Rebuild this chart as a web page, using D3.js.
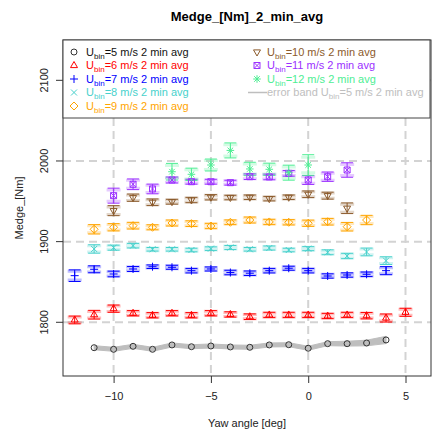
<!DOCTYPE html>
<html>
<head>
<meta charset="utf-8">
<script src="https://cdn.jsdelivr.net/npm/d3@7"></script>
<style>
  html, body { margin: 0; padding: 0; background: #fff; }
  svg { display: block; font-family: "Liberation Sans", Arial, sans-serif; }
</style>
</head>
<body>
<svg id="chart" width="432" height="432"></svg>
<script>
// Edgewise bending moment, 2 min averages binned by wind speed, versus yaw angle
const s5x = [-11, -10, -9, -8, -7, -6, -5, -4, -3, -2, -1, 0, 1, 2, 3, 4];
const s5y = [1768.5, 1766.5, 1770.2, 1766.5, 1771.9, 1769.7, 1770.6, 1769.4, 1769.0, 1771.9, 1772.2, 1767.8, 1773.5, 1773.5, 1774.3, 1778.1];
const s5band = [2.5, 2.5, 2.5, 2.5, 2.5, 2.5, 2.5, 2.5, 2.5, 2.5, 2.5, 2.5, 2.5, 3, 3.5, 4.5];

const s6x = [-12, -11, -10, -9, -8, -7, -6, -5, -4, -3, -2, -1, 0, 1, 2, 3, 4, 5];
const s6y = [1802.9, 1809.4, 1816.9, 1811.2, 1808.7, 1811.2, 1808.7, 1811.2, 1809.7, 1806.9, 1809.1, 1809.1, 1809.1, 1807.8, 1809.1, 1808.2, 1805.3, 1812.4];
const s6e = [4.8, 5.4, 4.5, 3.3, 3.3, 3.3, 3.3, 3.3, 3.3, 3.5, 3.3, 3.3, 3.3, 3.3, 3.3, 4, 5, 5];

const s7x = [-12, -11, -10, -9, -8, -7, -6, -5, -4, -3, -2, -1, 0, 1, 2, 3, 4];
const s7y = [1857.8, 1865.7, 1859.9, 1866.1, 1868.9, 1868.2, 1864, 1866.1, 1861.7, 1860.8, 1864, 1867, 1864, 1857.4, 1858.6, 1859.5, 1864];
const s7e = [7.2, 4.3, 3.5, 3.1, 2.2, 2.5, 2.8, 2.5, 2.8, 2.8, 2.8, 2.5, 2.8, 2.7, 2.7, 2.8, 5];

const s8x = [-11, -10, -9, -8, -7, -6, -5, -4, -3, -2, -1, 0, 1, 2, 3, 4];
const s8y = [1890.9, 1892.5, 1895, 1890.5, 1890.5, 1889.6, 1891.3, 1892.7, 1890.5, 1892.1, 1889.6, 1891.3, 1886.8, 1882.2, 1887.2, 1876.4];
const s8e = [5.2, 3.1, 2.8, 2.2, 2.2, 2.2, 2.2, 2.5, 2.2, 2.5, 2.2, 2.5, 3, 3.3, 4.8, 4.8];

const s9x = [-11, -10, -9, -8, -7, -6, -5, -4, -3, -2, -1, 0, 1, 2, 3];
const s9y = [1915.3, 1917.8, 1919.8, 1917.8, 1923.1, 1922.3, 1919.4, 1924, 1926.8, 1924.4, 1924, 1922.8, 1924.7, 1918.5, 1926.8];
const s9e = [5.8, 4.5, 4.1, 3.1, 3.7, 3.5, 3.3, 2.9, 3.7, 3.3, 3.3, 3.9, 4.1, 5.3, 5.8];

const s10x = [-10, -9, -8, -7, -6, -5, -4, -3, -2, -1, 0, 1, 2];
const s10y = [1938.4, 1954.5, 1948.8, 1949.5, 1951.6, 1955, 1954.7, 1955, 1953.3, 1955, 1958.7, 1957, 1941.4];
const s10e = [6.2, 4.5, 4.1, 3, 3.3, 3.3, 2.8, 2.8, 2.8, 2.8, 4.1, 4.3, 6.6];

const s11x = [-10, -9, -8, -7, -6, -5, -4, -3, -2, -1, 0, 1, 2];
const s11y = [1957, 1971.1, 1965.3, 1976.4, 1974.3, 1974.3, 1973.1, 1980.5, 1980.2, 1984.7, 1976.4, 1980.5, 1988.8];
const s11e = [9.3, 6.6, 6, 3.7, 3, 3, 3, 3.5, 3.5, 3.5, 5.5, 5.8, 9];

const s12x = [-7, -6, -5, -4, -3, -2, -1, 0];
const s12y = [1986.7, 1983.5, 1995, 2013.1, 1990.1, 1989.7, 1985.5, 1995];
const s12e = [10.3, 7.6, 7.4, 9.3, 8.3, 7.6, 9.3, 12.8];

const xTicks = [-10, -5, 0, 5];
const yTicks = [1800, 1900, 2000, 2100];
const windSpeeds = [5, 6, 7, 8, 9, 10, 11, 12];

const titleText = "Medge_[Nm]_2_min_avg";
const xTitle = "Yaw angle [deg]";
const yTitle = "Medge_[Nm]";

// series definitions (colour + R-style plotting symbol)
const series = [
  { ws: 5,  x: s5x,  y: s5y,  e: null, color: "#000000", pch: "circle" },
  { ws: 6,  x: s6x,  y: s6y,  e: s6e,  color: "#ff0000", pch: "triUp" },
  { ws: 7,  x: s7x,  y: s7y,  e: s7e,  color: "#0000ff", pch: "plus" },
  { ws: 8,  x: s8x,  y: s8y,  e: s8e,  color: "#48d1cc", pch: "cross" },
  { ws: 9,  x: s9x,  y: s9y,  e: s9e,  color: "#ffa500", pch: "diamond" },
  { ws: 10, x: s10x, y: s10y, e: s10e, color: "#8b5a2b", pch: "triDown" },
  { ws: 11, x: s11x, y: s11y, e: s11e, color: "#9b30ff", pch: "boxX" },
  { ws: 12, x: s12x, y: s12y, e: s12e, color: "#4eee94", pch: "star" }
];

const svg = d3.select("#chart");
const plot = { left: 63, right: 431, top: 40, bottom: 376 };

const x = d3.scaleLinear().domain([-12.6, 6.31]).range([plot.left, plot.right]);
const y = d3.scaleLinear().domain([1733.4, 2150]).range([plot.bottom, plot.top]);

// symbol paths centred on (0,0)
function symbolPath(type) {
  switch (type) {
    case "circle": { const r = 3; return `M${-r},0a${r},${r} 0 1,0 ${2*r},0a${r},${r} 0 1,0 ${-2*r},0Z`; }
    case "triUp": return "M0,-4L3.5,2.1L-3.5,2.1Z";
    case "triDown": return "M0,4L3.5,-2.1L-3.5,-2.1Z";
    case "plus": return "M-4,0H4M0,-4V4";
    case "cross": return "M-3,-3L3,3M-3,3L3,-3";
    case "diamond": return "M0,-4L4,0L0,4L-4,0Z";
    case "boxX": return "M-3,-3H3V3H-3ZM-3,-3L3,3M-3,3L3,-3";
    case "star": return "M-3.8,0H3.8M0,-3.8V3.8M-2.8,-2.8L2.8,2.8M-2.8,2.8L2.8,-2.8";
  }
}

// grid
const grid = svg.append("g").attr("stroke", "#d3d3d3").attr("stroke-width", 2).attr("stroke-dasharray", "8,5");
xTicks.forEach(t => grid.append("line").attr("x1", x(t)).attr("x2", x(t)).attr("y1", plot.top).attr("y2", plot.bottom));
yTicks.forEach(t => grid.append("line").attr("x1", plot.left).attr("x2", plot.right).attr("y1", y(t)).attr("y2", y(t)));

// error band for the 5 m/s bin
const band = s5x.map((d, i) => ({ x: d, lo: s5y[i] - s5band[i], hi: s5y[i] + s5band[i] }));
svg.append("path")
  .attr("d", d3.area().x(d => x(d.x)).y0(d => y(d.lo)).y1(d => y(d.hi))(band))
  .attr("fill", "#bebebe").attr("stroke", "#bebebe").attr("stroke-width", 1);

// error bars
series.filter(s => s.e).forEach(s => {
  const g = svg.append("g");
  s.x.forEach((xv, i) => {
    const cx = x(xv), lo = y(s.y[i] - s.e[i]), hi = y(s.y[i] + s.e[i]);
    const lo2 = y(s.y[i] - s.e[i] * 0.75), hi2 = y(s.y[i] + s.e[i] * 0.75);
    g.append("path").attr("d", `M${cx - 7},${hi2}H${cx + 7}M${cx - 7},${lo2}H${cx + 7}`)
      .attr("stroke", s.color).attr("stroke-opacity", 0.25).attr("stroke-width", 3).attr("fill", "none");
    g.append("path").attr("d", `M${cx},${hi}V${lo}M${cx - 6},${hi}H${cx + 6}M${cx - 6},${lo}H${cx + 6}`)
      .attr("stroke", s.color).attr("stroke-width", 1).attr("fill", "none");
  });
});

// 5 m/s line through the points
svg.append("path")
  .attr("d", d3.line().x((d, i) => x(d)).y((d, i) => y(s5y[i]))(s5x))
  .attr("fill", "none").attr("stroke", "#bebebe").attr("stroke-width", 1);

// markers
series.forEach(s => {
  const g = svg.append("g");
  s.x.forEach((xv, i) => {
    g.append("path").attr("d", symbolPath(s.pch))
      .attr("transform", `translate(${x(xv)},${y(s.y[i])})`)
      .attr("fill", "none").attr("stroke", s.color === "#000000" ? "#333" : s.color).attr("stroke-width", 1);
  });
});

// axes
const axisColor = "#333";
const xAxis = svg.append("g").attr("transform", `translate(0,${plot.bottom})`)
  .call(d3.axisBottom(x).tickValues(xTicks).tickSize(7).tickPadding(9).tickFormat(d3.format("d")));
const yAxis = svg.append("g").attr("transform", `translate(${plot.left},0)`)
  .call(d3.axisLeft(y).tickValues(yTicks).tickSize(7).tickFormat(d3.format("d")));
[xAxis, yAxis].forEach(a => {
  a.select(".domain").remove();
  a.selectAll("line").attr("stroke", axisColor);
  a.selectAll("text").attr("fill", "#222").style("font-size", "11px").style("font-family", "Liberation Sans, Arial, sans-serif");
});
yAxis.selectAll("text").attr("x", null).attr("dy", null)
  .attr("text-anchor", "middle")
  .attr("transform", function(d) { return `translate(-19,${y(d)})rotate(-90)`; })
  .attr("y", 0).attr("dy", "0.35em");
yAxis.selectAll(".tick").attr("transform", null);
yAxis.selectAll(".tick line").attr("transform", d => `translate(0,${y(d)})`);

// box
svg.append("rect").attr("x", plot.left).attr("y", plot.top)
  .attr("width", plot.right - plot.left).attr("height", plot.bottom - plot.top)
  .attr("fill", "none").attr("stroke", axisColor).attr("stroke-width", 1);

// titles
svg.append("text").attr("x", (plot.left + plot.right) / 2).attr("y", 21)
  .attr("text-anchor", "middle").style("font-size", "13px").style("font-weight", "bold").text(titleText);
svg.append("text").attr("x", (plot.left + plot.right) / 2).attr("y", 427)
  .attr("text-anchor", "middle").style("font-size", "11px").attr("fill", "#222").text(xTitle);
svg.append("text").attr("transform", `translate(23,${(plot.top + plot.bottom) / 2})rotate(-90)`)
  .attr("text-anchor", "middle").style("font-size", "11px").attr("fill", "#222").text(yTitle);

// legend
const leg = svg.append("g");
leg.append("rect").attr("x", 63).attr("y", 40).attr("width", 367).attr("height", 78)
  .attr("fill", "#fff").attr("stroke", "#444").attr("stroke-width", 1);

function legendLabel(g, tx, ty, ws, color, prefix) {
  const t = g.append("text").attr("x", tx).attr("y", ty).attr("dy", "0.35em")
    .style("font-size", "11px").attr("fill", color);
  if (prefix) t.append("tspan").text(prefix);
  t.append("tspan").text("U");
  t.append("tspan").attr("dy", "3").style("font-size", "8px").text("bin");
  t.append("tspan").attr("dy", "-3").text(`=${ws} m/s 2 min avg`);
}

const rowY = [52, 65.5, 79, 92.5, 106];
series.forEach((s, i) => {
  const col = i < 5 ? 0 : 1;
  const row = i < 5 ? i : i - 5;
  const sx = col === 0 ? 74 : 257;
  const tx = col === 0 ? 86 : 267;
  leg.append("path").attr("d", symbolPath(s.pch))
    .attr("transform", `translate(${sx},${rowY[row]})`)
    .attr("fill", "none").attr("stroke", s.color === "#000000" ? "#333" : s.color).attr("stroke-width", 1);
  legendLabel(leg, tx, rowY[row], s.ws, s.color === "#000000" ? "#111" : s.color, null);
});
leg.append("line").attr("x1", 248).attr("x2", 267).attr("y1", rowY[3]).attr("y2", rowY[3])
  .attr("stroke", "#bebebe").attr("stroke-width", 1.5);
legendLabel(leg, 267, rowY[3], windSpeeds[0], "#bebebe", "error band  ");
</script>
</body>
</html>
